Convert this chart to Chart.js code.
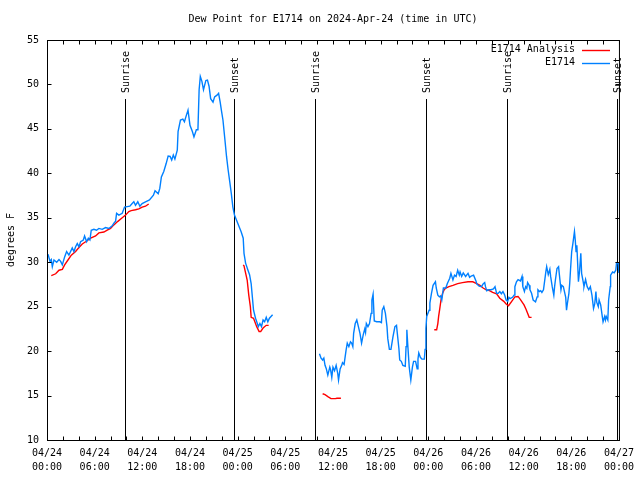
<!DOCTYPE html>
<html>
<head>
<meta charset="utf-8">
<script src="https://cdn.jsdelivr.net/npm/chart.js@4.4.1/dist/chart.umd.min.js"></script>
<style>
  html, body { margin: 0; padding: 0; background: #fff; }
  canvas { display: block; }
</style>
</head>
<body>
<canvas id="chart" width="640" height="480"></canvas>
<script>
// Dew point chart, gnuplot look

const TITLE = "Dew Point for E1714 on 2024-Apr-24 (time in UTC)";
const Y_LABEL = "degrees F";
const FONT = '"DejaVu Sans Mono", monospace';

// x axis: hours since 04/24 00:00 UTC
const xTickDates = ["04/24", "04/24", "04/24", "04/24", "04/25", "04/25", "04/25", "04/25", "04/26", "04/26", "04/26", "04/26", "04/27"];
const xTickTimes = ["00:00", "06:00", "12:00", "18:00", "00:00", "06:00", "12:00", "18:00", "00:00", "06:00", "12:00", "18:00", "00:00"];

const sunHours = [9.8, 23.56, 33.8, 47.69, 57.97, 71.81];
const sunLabels = ["Sunrise", "Sunset", "Sunrise", "Sunset", "Sunrise", "Sunset"];

// E1714 Analysis (null = gap)
const analysisHours = [
  0.54, 1.09, 1.51, 1.93, 2.22, 2.64, 3.06, 3.6, 4.02, 4.44, 4.86, 5.49, 6.12, 6.53, 7.16, 7.58, 8.0, 8.42, 8.92, 9.47,
  9.89, 10.3, 10.6, 11.14, 11.56, 11.98, 12.4, 12.8, 18,
  24.7, 24.8, 25.2, 25.4, 25.6, 25.7, 26.0, 26.4, 26.7, 26.9, 27.2, 27.6, 27.9, 31,
  34.7, 35.0, 35.4, 35.75, 36.3, 36.5, 37.0, 42,
  48.75, 49.05, 49.2, 49.3, 49.45, 49.6, 49.8, 50.0, 50.2, 50.6, 51.1, 51.7, 52.3, 53.0, 53.6, 54.1,
  54.5, 54.9, 55.3, 55.7, 56.1, 56.6, 57.0, 57.5, 57.8, 58.1, 58.5, 58.9, 59.3, 59.6, 60.05, 60.3,
  60.5, 60.7, 61.0
];
const analysisDew = [
  28.5, 28.7, 29.1, 29.2, 29.7, 30.25, 30.8, 31.2, 31.65, 32.05, 32.3, 32.7, 32.95, 33.3, 33.4, 33.6, 33.8, 34.2, 34.6, 35.0,
  35.3, 35.7, 35.8, 35.9, 36.0, 36.2, 36.3, 36.55, null,
  29.7, 29.6, 28.0, 26.3, 25.0, 23.8, 23.7, 22.75, 22.2, 22.2, 22.6, 22.9, 22.9, null,
  15.2, 15.1, 14.85, 14.65, 14.65, 14.7, 14.7, null,
  22.4, 22.4, 23.1, 23.9, 24.8, 25.75, 26.5, 26.9, 27.1, 27.25, 27.4, 27.6, 27.7, 27.8, 27.8, 27.6,
  27.4, 27.1, 26.9, 26.8, 26.6, 26.45, 25.95, 25.6, 25.3, 25.1, 25.6, 26.1, 26.15, 25.8, 25.2, 24.7,
  24.25, 23.8, 23.8
];

// E1714 observations (null = gap)
const obsHours = [
  0.13, 0.38, 0.54, 0.67, 0.88, 1.22, 1.51, 1.72, 1.93, 2.22, 2.47, 2.76, 2.97, 3.18, 3.39, 3.6, 3.81, 4.02, 4.23, 4.57,
  4.73, 4.99, 5.2, 5.4, 5.57, 5.9, 6.24, 6.53, 6.95, 7.37, 7.79, 8.21, 8.42, 8.63, 8.76, 9.05, 9.47, 9.76, 10.1, 10.43,
  10.72, 10.93, 11.14, 11.43, 11.69, 11.98, 12.4, 12.9, 13.4, 13.6, 14.0, 14.2, 14.4, 14.7, 15.0, 15.25, 15.5, 15.7, 15.9, 16.1, 16.4,
  16.5, 16.8, 17.1, 17.3, 17.55, 17.75, 18.0, 18.3, 18.5, 18.8, 19.0, 19.15, 19.3, 19.5, 19.7, 20.0, 20.2, 20.4, 20.6, 20.9,
  21.1, 21.4, 21.6, 21.8, 21.95, 22.15, 22.4, 22.6, 22.8, 23.0, 23.2, 23.4, 23.6, 24.0, 24.45, 24.7, 24.8, 25.0, 25.3, 25.5,
  25.7, 25.85, 26.0, 26.25, 26.4, 26.6, 26.8, 27.0, 27.2, 27.4, 27.6, 27.8, 28.0, 28.2, 28.4, 31,
  34.3, 34.5, 34.7, 34.85, 35.0, 35.15, 35.35, 35.6, 35.7, 35.85, 36.0, 36.2, 36.4, 36.6, 36.7, 36.9, 37.1, 37.2, 37.4, 37.65,
  37.8, 38.0, 38.2, 38.35, 38.5, 38.6, 38.8, 39.0, 39.2, 39.4, 39.6, 39.8, 40.0, 40.1, 40.2, 40.4, 40.6, 40.8, 40.9, 41.05,
  41.2, 41.5, 41.9, 42.1, 42.2, 42.4, 42.6, 42.8, 42.9, 43.1, 43.3, 43.55, 43.8, 44.0, 44.1, 44.3, 44.4, 44.6, 44.8, 45.1,
  45.2, 45.3, 45.4, 45.6, 45.8, 46.0, 46.15, 46.4, 46.6, 46.7, 46.8, 47.0, 47.2, 47.5, 47.6, 47.7, 47.8, 48.1, 48.2, 48.4,
  48.6, 48.9, 49.0, 49.2, 49.4, 49.55, 49.7, 49.9, 50.2, 50.4, 50.7, 50.85, 51.1, 51.3, 51.5, 51.7, 51.9, 52.0, 52.2, 52.4,
  52.7, 53.0, 53.2, 53.4, 53.7, 54.0, 54.1, 54.4, 54.7, 54.9, 55.1, 55.2, 55.35, 55.6, 55.9, 56.2, 56.4, 56.6, 56.8, 57.0,
  57.2, 57.4, 57.6, 57.8, 58.0, 58.15, 58.3, 58.6, 58.8, 58.9, 59.1, 59.3, 59.6, 59.8, 59.9, 60.1, 60.25, 60.4, 60.5, 60.7,
  60.8, 61.0, 61.2, 61.5, 61.7, 61.8, 62.0, 62.15, 62.3, 62.5, 62.8, 62.9, 63.1, 63.3, 63.4, 63.6, 63.8, 63.9, 64.0, 64.2,
  64.4, 64.5, 64.7, 64.8, 65.0, 65.3, 65.4, 65.5, 65.7, 65.8, 65.9, 66.05, 66.2, 66.4, 66.5, 66.6, 66.7, 66.8, 66.9, 67.05,
  67.2, 67.3, 67.5, 67.6, 67.8, 68.0, 68.2, 68.4, 68.6, 68.8, 68.95, 69.1, 69.2, 69.4, 69.5, 69.7, 69.9, 70.0, 70.2, 70.3,
  70.4, 70.6, 70.7, 70.9, 70.95, 71.2, 71.4, 71.6, 71.7, 71.9, 72.0
];
const obsDew = [
  30.9, 30.1, 30.3, 29.5, 30.25, 30.0, 30.3, 30.1, 29.7, 30.6, 31.2, 30.8, 31.2, 31.6, 31.2, 31.75, 32.1, 31.75, 32.3, 32.5,
  32.95, 32.3, 32.7, 32.5, 33.6, 33.7, 33.6, 33.8, 33.7, 33.9, 33.8, 34.1, 34.4, 34.6, 35.5, 35.3, 35.5, 36.2, 36.25, 36.3,
  36.6, 36.8, 36.4, 36.8, 36.3, 36.6, 36.8, 37.0, 37.55, 38.05, 37.7, 38.3, 39.6, 40.2, 41.1, 41.95, 41.9, 41.5, 42.05, 41.6, 42.6,
  44.7, 46.0, 46.1, 45.8, 46.55, 47.1, 45.4, 44.7, 44.1, 44.9, 44.9, 49.4, 50.9, 50.35, 49.4, 50.45, 50.5, 49.8, 48.4, 48.0,
  48.6, 48.8, 49.0, 48.0, 47.1, 46.0, 43.75, 41.9, 40.4, 39.1, 37.75, 36.2, 35.3, 34.4, 33.4, 32.7, 31.0, 29.9, 29.1, 28.6,
  27.6, 26.1, 24.6, 23.7, 23.3, 22.75, 23.1, 22.75, 23.5, 23.3, 23.8, 23.3, 23.7, 23.9, 24.1, null,
  19.7, 19.2, 19.0, 19.2, 18.4, 18.05, 17.3, 18.2, 17.9, 17.05, 18.2, 17.8, 18.4, 17.5, 16.75, 18.0, 18.4, 18.7, 18.5, 20.1,
  20.9, 20.5, 21.05, 20.9, 20.5, 22.0, 23.1, 23.5, 22.75, 22.0, 20.9, 21.8, 22.5, 22.1, 23.1, 22.75, 23.1, 24.25, 25.75, 26.4,
  23.4, 23.3, 23.3, 23.2, 24.6, 25.0, 24.25, 22.75, 21.4, 20.2, 20.2, 21.6, 22.75, 22.9, 22.0, 20.3, 19.0, 18.85, 18.4, 18.3,
  20.5, 22.4, 20.9, 18.2, 16.75, 18.2, 18.85, 18.85, 18.0, 19.1, 19.8, 19.3, 19.1, 19.1, 20.2, 22.55, 23.9, 24.6, 25.4, 26.5,
  27.4, 27.8, 27.1, 26.3, 26.1, 26.2, 25.75, 27.1, 27.1, 27.6, 28.2, 28.75, 28.0, 28.55, 28.4, 29.1, 28.55, 28.9, 28.4, 28.8,
  28.4, 28.75, 28.3, 28.45, 28.55, 27.9, 27.55, 27.3, 27.25, 27.55, 27.7, 27.25, 26.8, 26.9, 26.9, 27.0, 27.25, 26.5, 26.5, 26.7,
  26.45, 26.7, 26.35, 25.75, 25.6, 26.05, 25.9, 26.05, 26.3, 27.25, 27.8, 28.05, 27.9, 28.4, 27.25, 26.7, 27.25, 27.05, 27.7, 27.4,
  26.9, 26.5, 25.75, 25.55, 26.1, 26.9, 26.7, 26.8, 26.6, 26.9, 28.95, 29.5, 28.6, 29.2, 28.4, 27.25, 26.3, 27.25, 28.0, 29.3,
  29.5, 28.6, 26.9, 27.4, 27.25, 26.05, 24.6, 25.3, 26.5, 27.6, 29.1, 31.2, 32.1, 33.45, 32.5, 31.2, 31.9, 29.9, 27.8, 29.1,
  31.0, 28.75, 27.8, 27.25, 28.05, 27.25, 26.9, 27.25, 26.3, 24.8, 25.3, 26.7, 25.5, 25.0, 25.75, 25.2, 23.9, 23.3, 23.9, 23.5,
  23.9, 23.5, 25.75, 27.25, 28.55, 28.9, 28.8, 29.1, 29.95, 29.9, 28.8
];

function toPoints(hours, values) {
  return hours.map((h, i) => ({ x: h, y: values[i] }));
}

// gnuplot style frame, inward ticks, sun lines, title, legend
const gnuplotDecor = {
  id: "gnuplotDecor",
  beforeDatasetsDraw(chart) {
    const { ctx, chartArea: a, scales } = chart;
    ctx.save();
    ctx.strokeStyle = "#000";
    ctx.lineWidth = 1;
    ctx.fillStyle = "#000";
    ctx.font = "10px " + FONT;
    sunHours.forEach((h, i) => {
      const x = Math.round(scales.x.getPixelForValue(h)) + 0.5;
      ctx.beginPath();
      ctx.moveTo(x, a.top + 59);
      ctx.lineTo(x, a.bottom);
      ctx.stroke();
      ctx.save();
      ctx.translate(x + 1, a.top + 53);
      ctx.rotate(-Math.PI / 2);
      ctx.textAlign = "left";
      ctx.textBaseline = "middle";
      ctx.fillText(sunLabels[i], 0, 0);
      ctx.restore();
    });
    ctx.restore();
  },
  afterDatasetsDraw(chart) {
    const { ctx, chartArea: a, scales } = chart;
    const L = a.left + 0.5, R = a.right + 0.5, T = a.top + 0.5, B = a.bottom + 0.5;
    ctx.save();
    ctx.strokeStyle = "#000";
    ctx.lineWidth = 1;
    ctx.beginPath();
    for (let h = 0; h <= 72; h += 2) {
      const x = Math.round(scales.x.getPixelForValue(h)) + 0.5;
      ctx.moveTo(x, B); ctx.lineTo(x, B - 4);
      ctx.moveTo(x, T); ctx.lineTo(x, T + 4);
    }
    for (let v = 10; v <= 55; v += 5) {
      const y = Math.round(scales.y.getPixelForValue(v)) + 0.5;
      ctx.moveTo(L, y); ctx.lineTo(L + 4, y);
      ctx.moveTo(R, y); ctx.lineTo(R - 4, y);
    }
    ctx.stroke();
    ctx.strokeRect(L, T, a.right - a.left, a.bottom - a.top);
    ctx.restore();
  },
  afterDraw(chart) {
    const { ctx, chartArea: a } = chart;
    ctx.save();
    ctx.fillStyle = "#000";
    ctx.font = "10px " + FONT;
    ctx.textAlign = "center";
    ctx.textBaseline = "middle";
    ctx.fillText(TITLE, (a.left + a.right) / 2, 19);

    ctx.save();
    ctx.translate(11, (a.top + a.bottom) / 2);
    ctx.rotate(-Math.PI / 2);
    ctx.fillText(Y_LABEL, 0, 0);
    ctx.restore();

    chart.data.datasets.forEach((ds, i) => {
      const y = a.top + 9.5 + i * 13;
      ctx.textAlign = "right";
      ctx.fillStyle = "#000";
      ctx.fillText(ds.label, 575, y);
      ctx.strokeStyle = ds.borderColor;
      ctx.lineWidth = 1.4;
      ctx.beginPath();
      ctx.moveTo(582, Math.round(y) + 0.5);
      ctx.lineTo(610, Math.round(y) + 0.5);
      ctx.stroke();
    });
    ctx.restore();
  },
};

Chart.defaults.font.family = FONT;
Chart.defaults.font.size = 10;
Chart.defaults.color = "#000";

new Chart(document.getElementById("chart"), {
  type: "line",
  data: {
    datasets: [
      {
        label: "E1714 Analysis",
        data: toPoints(analysisHours, analysisDew),
        borderColor: "#ff0000",
        borderWidth: 1.4,
        pointRadius: 0,
        tension: 0,
        spanGaps: false,
        order: 1,
      },
      {
        label: "E1714",
        data: toPoints(obsHours, obsDew),
        borderColor: "#0080ff",
        borderWidth: 1.4,
        pointRadius: 0,
        tension: 0,
        spanGaps: false,
        order: 0,
      },
    ],
  },
  options: {
    responsive: false,
    animation: false,
    devicePixelRatio: 1,
    layout: { padding: { left: 0, right: 20, top: 40, bottom: 0 } },
    plugins: {
      legend: { display: false },
      title: { display: false },
      tooltip: { enabled: false },
    },
    scales: {
      x: {
        type: "linear",
        min: 0,
        max: 72,
        grid: { display: false, drawTicks: false },
        border: { display: false },
        ticks: {
          stepSize: 6,
          autoSkip: false,
          maxRotation: 0,
          padding: 6,
          font: { size: 10, lineHeight: 1.4 },
          callback: (v) => {
            const i = Math.round(v / 6);
            return [xTickDates[i], xTickTimes[i]];
          },
        },
        afterFit: (s) => { s.height = 40; },
      },
      y: {
        min: 10,
        max: 55,
        grid: { display: false, drawTicks: false },
        border: { display: false },
        ticks: { stepSize: 5, padding: 8, font: { size: 10 } },
        afterFit: (s) => { s.width = 47; },
      },
    },
  },
  plugins: [gnuplotDecor],
});
</script>
</body>
</html>
